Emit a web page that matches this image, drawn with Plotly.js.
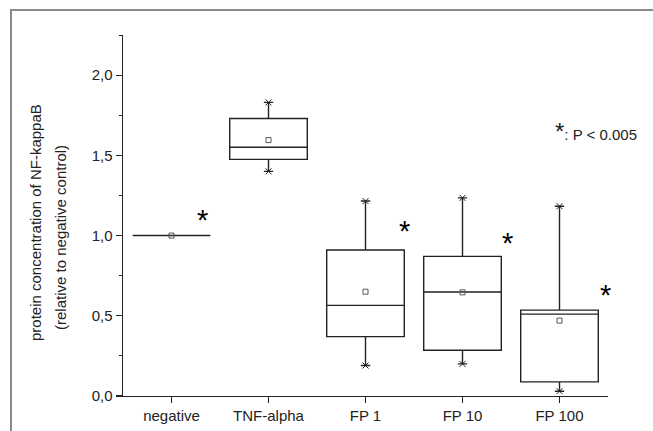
<!DOCTYPE html>
<html>
<head>
<meta charset="utf-8">
<script src="https://cdn.plot.ly/plotly-3.0.1.min.js"></script>
<style>
  html, body { margin: 0; padding: 0; background: #fff; }
  #frame { position: absolute; left: 10px; top: 9px; width: 660px; height: 440px;
           border-top: 2px solid #8a8a8a; border-left: 2px solid #8a8a8a; }
  #chart { position: absolute; left: 0; top: 0; width: 653px; height: 431px; }
</style>
</head>
<body>
<div id="frame"></div>
<div id="chart"></div>
<script>
const categories = ["negative", "TNF-alpha", "FP 1", "FP 10", "FP 100"];
const lowerWhisker = [1.0, 1.40, 0.19, 0.20, 0.03];
const q1Values     = [1.0, 1.475, 0.37, 0.285, 0.088];
const medianValues = [1.0, 1.55, 0.565, 0.648, 0.51];
const q3Values     = [1.0, 1.73, 0.91, 0.87, 0.535];
const upperWhisker = [1.0, 1.83, 1.215, 1.235, 1.183];
const meanValues   = [1.0, 1.595, 0.65, 0.646, 0.47];
const yTickVals = [0, 0.5, 1.0, 1.5, 2.0];
const yTickText = ["0,0", "0,5", "1,0", "1,5", "2,0"];
const significant = [true, false, true, true, true];
const yTitleLines = ["protein concentration of NF-kappaB", "(relative to negative control)"];

const fontFam = "Liberation Sans, Arial, sans-serif";
const ink = "#222";

const capX = [], capY = [];
categories.forEach((c, i) => {
  if (upperWhisker[i] !== lowerWhisker[i]) {
    capX.push(c, c); capY.push(lowerWhisker[i], upperWhisker[i]);
  }
});

const traces = [
  {
    type: "box",
    x: categories,
    q1: q1Values,
    median: medianValues,
    q3: q3Values,
    lowerfence: lowerWhisker,
    upperfence: upperWhisker,
    boxpoints: false,
    width: 0.8,
    fillcolor: "rgba(255,255,255,0)",
    line: { color: ink, width: 1.4 },
    whiskerwidth: 0.12,
    hoverinfo: "skip",
    showlegend: false
  },
  {
    type: "scatter",
    mode: "markers",
    x: capX,
    y: capY,
    marker: { symbol: "x-thin-open", size: 6, color: ink, line: { color: ink, width: 1 } },
    hoverinfo: "skip",
    showlegend: false
  },
  {
    type: "scatter",
    mode: "markers",
    x: categories,
    y: meanValues,
    marker: { symbol: "square-open", size: 5, color: "#555", line: { color: "#555", width: 1 } },
    hoverinfo: "skip",
    showlegend: false
  }
];

const X0 = 123, X1 = 608, Y0 = 396, Y1 = 35;
const px = v => (v - X0) / (X1 - X0);
const py = v => (Y0 - v) / (Y0 - Y1);

const starPos = [
  { dx: 0.32, y: 1.14 },
  null,
  { dx: 0.40, y: 1.07 },
  { dx: 0.46, y: 1.0 },
  { dx: 0.47, y: 0.675 }
];
const annotations = [];
categories.forEach((c, i) => {
  if (significant[i] && starPos[i]) {
    annotations.push({
      x: i + starPos[i].dx, y: starPos[i].y, xref: "x", yref: "y",
      text: "*", showarrow: false,
      font: { family: fontFam, size: 29, color: "#000" },
      yanchor: "middle", xanchor: "center", yshift: -7
    });
  }
});
annotations.push({
  x: px(553), y: py(131), xref: "paper", yref: "paper",
  text: "<span style='font-size:24px'>*</span>: P < 0.005",
  showarrow: false, xanchor: "left", yanchor: "middle",
  font: { family: fontFam, size: 15, color: ink }
});
annotations.push({
  x: px(35), y: py(223), xref: "paper", yref: "paper",
  text: yTitleLines[0], textangle: -90, showarrow: false,
  xanchor: "center", yanchor: "middle",
  font: { family: fontFam, size: 15, color: ink }
});
annotations.push({
  x: px(60), y: py(237), xref: "paper", yref: "paper",
  text: yTitleLines[1], textangle: -90, showarrow: false,
  xanchor: "center", yanchor: "middle",
  font: { family: fontFam, size: 15, color: ink }
});

const layout = {
  width: 653, height: 431,
  margin: { l: 123, r: 45, t: 35, b: 35 },
  paper_bgcolor: "rgba(0,0,0,0)",
  plot_bgcolor: "rgba(0,0,0,0)",
  font: { family: fontFam, size: 15, color: ink },
  xaxis: {
    type: "category",
    range: [-0.5, 4.5],
    showline: true, linecolor: ink, linewidth: 1.4,
    ticks: "outside", ticklen: 6, tickwidth: 1.2, tickcolor: ink,
    showgrid: false, zeroline: false,
    tickfont: { family: fontFam, size: 15, color: ink }
  },
  yaxis: {
    range: [0, 2.25],
    tickvals: yTickVals, ticktext: yTickText,
    showline: true, linecolor: ink, linewidth: 1.4,
    ticks: "outside", ticklen: 6, tickwidth: 1.2, tickcolor: ink,
    minor: { dtick: 0.25, ticks: "outside", ticklen: 3, tickwidth: 1, tickcolor: ink, showgrid: false },
    showgrid: false, zeroline: false,
    tickfont: { family: fontFam, size: 15, color: ink }
  },
  annotations: annotations
};

Plotly.newPlot("chart", traces, layout, { staticPlot: true, displayModeBar: false });
</script>
</body>
</html>
